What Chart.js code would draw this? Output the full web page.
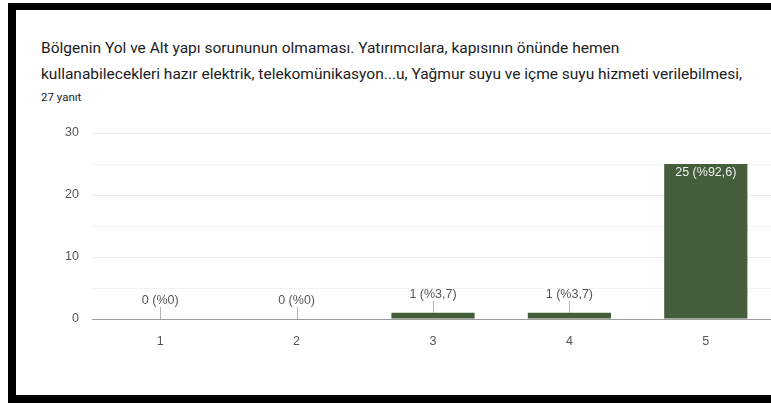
<!DOCTYPE html>
<html lang="tr">
<head>
<meta charset="utf-8">
<title>Bölgenin Yol ve Alt yapı sorunu</title>
<script src="https://cdn.jsdelivr.net/npm/chart.js@4/dist/chart.umd.min.js"></script>
<style>
    html, body {
        margin: 0;
        padding: 0;
        background: #fff;
    }
    .page {
        position: relative;
        width: 771px;
        height: 403px;
        overflow: hidden;
    }
    .frame {
        position: absolute;
        left: 8px;
        top: 3px;
        width: 780px;
        height: 385px;
        border-top: 7px solid #000;
        border-left: 8px solid #000;
        border-bottom: 8px solid #000;
    }
    .title {
        position: absolute;
        left: 41px;
        top: 35px;
        font-family: Roboto, "Noto Sans", Arial, sans-serif;
        font-size: 15.5px;
        line-height: 26px;
        color: #202124;
        white-space: nowrap;
    }
    .count {
        position: absolute;
        left: 41px;
        top: 90px;
        font-family: Roboto, "Noto Sans", Arial, sans-serif;
        font-size: 11.5px;
        color: #202124;
    }
    #chart {
        position: absolute;
        left: 0;
        top: 0;
    }
</style>
</head>
<body>
<div class="page">
<div class="frame"></div>
<div class="title">Bölgenin Yol ve Alt yapı sorununun olmaması. Yatırımcılara, kapısının önünde hemen<br>kullanabilecekleri hazır elektrik, telekomünikasyon...u, Yağmur suyu ve içme suyu hizmeti verilebilmesi,</div>
<div class="count">27 yanıt</div>
<canvas id="chart" width="790" height="403"></canvas>
</div>

<script>
const CATEGORIES = ['1', '2', '3', '4', '5'];
const COUNTS = [0, 0, 1, 1, 25];
const TOTAL_ANSWERS = 27;
const Y_MAJOR_TICKS = [0, 10, 20, 30];

const BAR_COLOR = '#445e3c';
const TEXT_COLOR = '#555';
const LABEL_FONT = '12.5px "Liberation Sans", Arial, sans-serif';

function percentText(v) {
    const p = Math.round(v / TOTAL_ANSWERS * 1000) / 10;
    return String(p).replace('.', ',');
}

// value labels: above the bar with a small leader line, or inside tall bars
const barLabels = {
    id: 'barLabels',
    afterDatasetsDraw(chart) {
        const ctx = chart.ctx;
        const meta = chart.getDatasetMeta(0);
        ctx.save();
        ctx.font = LABEL_FONT;
        ctx.textAlign = 'center';
        ctx.textBaseline = 'middle';
        meta.data.forEach((bar, i) => {
            const v = COUNTS[i];
            const txt = `${v} (%${percentText(v)})`;
            if (bar.base - bar.y > 30) {
                ctx.fillStyle = '#eef0ec';
                ctx.fillText(txt, bar.x, bar.y + 9);
            } else {
                ctx.strokeStyle = '#b5b5b5';
                ctx.lineWidth = 1;
                ctx.beginPath();
                ctx.moveTo(Math.round(bar.x) + 0.5, bar.y - 12);
                ctx.lineTo(Math.round(bar.x) + 0.5, bar.y);
                ctx.stroke();
                ctx.fillStyle = TEXT_COLOR;
                ctx.fillText(txt, bar.x, bar.y - 18);
            }
        });
        ctx.restore();
    }
};

new Chart(document.getElementById('chart'), {
    type: 'bar',
    data: {
        labels: CATEGORIES,
        datasets: [{
            data: COUNTS,
            backgroundColor: BAR_COLOR,
            borderWidth: 0,
            barPercentage: 0.61,
            categoryPercentage: 1
        }]
    },
    options: {
        responsive: false,
        animation: false,
        events: [],
        layout: {
            padding: { top: 133, left: 0, right: 16, bottom: 54 }
        },
        plugins: {
            legend: { display: false },
            tooltip: { enabled: false }
        },
        scales: {
            x: {
                grid: { display: false },
                border: { display: false },
                ticks: {
                    color: TEXT_COLOR,
                    padding: 7,
                    font: { family: '"Liberation Sans", Arial, sans-serif', size: 12.5 }
                },
                afterFit(scale) { scale.height = 30; }
            },
            y: {
                min: 0,
                max: 30,
                border: { display: false },
                grid: {
                    drawTicks: false,
                    lineWidth: 1,
                    color: (c) => {
                        const v = c.tick.value;
                        if (v === 0) return '#9c9c9c';
                        return Y_MAJOR_TICKS.includes(v) ? '#e8e8e8' : '#f3f3f3';
                    }
                },
                ticks: {
                    stepSize: 5,
                    padding: 13,
                    color: TEXT_COLOR,
                    font: { family: '"Liberation Sans", Arial, sans-serif', size: 12.5 },
                    callback: (v) => Y_MAJOR_TICKS.includes(v) ? v : ''
                },
                afterFit(scale) { scale.width = 92; }
            }
        }
    },
    plugins: [barLabels]
});
</script>
</body>
</html>
